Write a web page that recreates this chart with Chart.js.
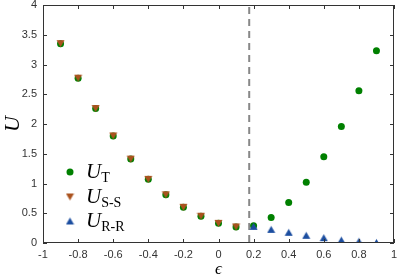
<!DOCTYPE html>
<html>
<head>
<meta charset="utf-8">
<script src="https://cdn.jsdelivr.net/npm/chart.js@4.4.0/dist/chart.umd.min.js"></script>
<style>
  html, body { margin: 0; padding: 0; background: #fff; }
  #wrap { width: 399px; height: 280px; }
</style>
</head>
<body>
<div id="wrap"><canvas id="chart" width="399" height="280"></canvas></div>
<script>
// epsilon values
const epsAll = [-0.9, -0.8, -0.7, -0.6, -0.5, -0.4, -0.3, -0.2, -0.1, 0, 0.1, 0.2, 0.3, 0.4, 0.5, 0.6, 0.7, 0.8, 0.9];
const uT = [3.35, 2.77, 2.26, 1.80, 1.41, 1.07, 0.81, 0.60, 0.45, 0.33, 0.27, 0.29, 0.43, 0.68, 1.02, 1.45, 1.96, 2.56, 3.23];
const epsSS = [-0.9, -0.8, -0.7, -0.6, -0.5, -0.4, -0.3, -0.2, -0.1, 0, 0.1];
const uSS = [3.35, 2.77, 2.26, 1.80, 1.41, 1.07, 0.81, 0.60, 0.45, 0.33, 0.27];
const epsRR = [0.2, 0.3, 0.4, 0.5, 0.6, 0.7, 0.8, 0.9];
const uRR = [0.28, 0.23, 0.18, 0.13, 0.09, 0.05, 0.03, 0.01];
const critEps = 0.175;

const green = "rgb(0,128,0)";
const brown = "rgb(170,82,30)";
const blue = "rgb(28,78,160)";

function pts(xs, ys) {
  return xs.map((x, i) => ({ x: x, y: ys[i] }));
}

function fmt(v) {
  return String(Number(v.toFixed(1)));
}

// triangle marker centred on its bounding box (like matlab)
function makeTri(color, up) {
  const c = document.createElement("canvas");
  c.width = 9; c.height = 9;
  const g = c.getContext("2d");
  g.fillStyle = color;
  g.beginPath();
  if (up) {
    g.moveTo(4.5, 1); g.lineTo(8.5, 8); g.lineTo(0.5, 8);
  } else {
    g.moveTo(0.5, 1); g.lineTo(8.5, 1); g.lineTo(4.5, 8);
  }
  g.closePath();
  g.fill();
  return c;
}
const triDown = makeTri(brown, false);
const triUp = makeTri(blue, true);

// box, inward ticks and the dashed critical line
const boxPlugin = {
  id: "box",
  afterDraw(chart) {
    const ctx = chart.ctx;
    const { left, right, top, bottom } = chart.chartArea;
    const xs = chart.scales.x, ys = chart.scales.y;
    ctx.save();
    ctx.strokeStyle = "#333";
    ctx.lineWidth = 1;
    ctx.strokeRect(left + 0.5, top + 0.5, right - left - 1, bottom - top - 1);
    ctx.beginPath();
    xs.ticks.forEach((t) => {
      const px = Math.round(xs.getPixelForValue(t.value)) + 0.5;
      ctx.moveTo(px, bottom); ctx.lineTo(px, bottom - 4);
      ctx.moveTo(px, top); ctx.lineTo(px, top + 4);
    });
    ys.ticks.forEach((t) => {
      const py = Math.round(ys.getPixelForValue(t.value)) + 0.5;
      ctx.moveTo(left, py); ctx.lineTo(left + 4, py);
      ctx.moveTo(right, py); ctx.lineTo(right - 4, py);
    });
    ctx.stroke();
    ctx.restore();
  },
  beforeDatasetsDraw(chart) {
    const ctx = chart.ctx;
    const { top, bottom } = chart.chartArea;
    const px = chart.scales.x.getPixelForValue(critEps);
    ctx.save();
    ctx.strokeStyle = "#888";
    ctx.lineWidth = 2;
    ctx.setLineDash([7, 5]);
    ctx.beginPath();
    ctx.moveTo(px, top + 2);
    ctx.lineTo(px, bottom);
    ctx.stroke();
    ctx.restore();
  }
};

// legend with subscripts
const legendPlugin = {
  id: "subLegend",
  afterDraw(chart) {
    const ctx = chart.ctx;
    const items = [
      { sub: "T", marker: null, y: 172 },
      { sub: "S-S", marker: triDown, y: 197 },
      { sub: "R-R", marker: triUp, y: 221 }
    ];
    ctx.save();
    items.forEach((it) => {
      if (it.marker) {
        ctx.drawImage(it.marker, 70 - 4.5, it.y - 4.5);
      } else {
        ctx.fillStyle = green;
        Chart.helpers.drawPoint(ctx, { pointStyle: "circle", radius: 3.5, borderWidth: 0 }, 70, it.y);
      }
      ctx.fillStyle = "#000";
      ctx.textBaseline = "alphabetic";
      ctx.font = "italic 21px 'Liberation Serif'";
      ctx.fillText("U", 86, it.y + 6);
      const w = ctx.measureText("U").width;
      ctx.font = "14px 'Liberation Serif'";
      ctx.fillText(it.sub, 86 + w, it.y + 10);
    });
    ctx.restore();
  }
};

const tickFont = { family: "'Liberation Sans', Arial, sans-serif", size: 11 };

new Chart(document.getElementById("chart"), {
  type: "scatter",
  data: {
    datasets: [
      {
        data: pts(epsRR, uRR),
        pointStyle: triUp,
        backgroundColor: blue,
        borderColor: blue
      },
      {
        data: pts(epsSS, uSS),
        pointStyle: triDown,
        backgroundColor: brown,
        borderColor: brown
      },
      {
        data: pts(epsAll, uT),
        pointStyle: "circle",
        pointRadius: 3.5,
        backgroundColor: green,
        borderColor: green,
        borderWidth: 0
      }
    ]
  },
  options: {
    responsive: false,
    animation: false,
    layout: { padding: { top: 3, right: 2, left: 0, bottom: 0 } },
    plugins: { legend: { display: false }, tooltip: { enabled: false } },
    scales: {
      x: {
        type: "linear",
        min: -1,
        max: 1,
        ticks: { stepSize: 0.2, color: "#333", font: tickFont, padding: 5, callback: fmt },
        grid: { display: false, drawTicks: false },
        border: { display: false },
        title: {
          display: true,
          text: "ϵ",
          color: "#000",
          font: { family: "'Liberation Serif'", style: "italic", size: 17 },
          padding: { top: 0, bottom: 0 }
        },
        afterFit(s) {
          s.height = 37;
          s.paddingLeft = 0; s.paddingRight = 0;
        }
      },
      y: {
        type: "linear",
        min: 0,
        max: 4,
        ticks: { stepSize: 0.5, color: "#333", font: tickFont, padding: 6, callback: fmt },
        grid: { display: false, drawTicks: false },
        border: { display: false },
        title: {
          display: true,
          text: "U",
          color: "#000",
          font: { family: "'Liberation Serif'", style: "italic", size: 22 },
          padding: { top: 0, bottom: 0 }
        },
        afterFit(s) {
          s.width = 43;
          s.paddingTop = 0; s.paddingBottom = 0;
        }
      }
    }
  },
  plugins: [boxPlugin, legendPlugin]
});
</script>
</body>
</html>
